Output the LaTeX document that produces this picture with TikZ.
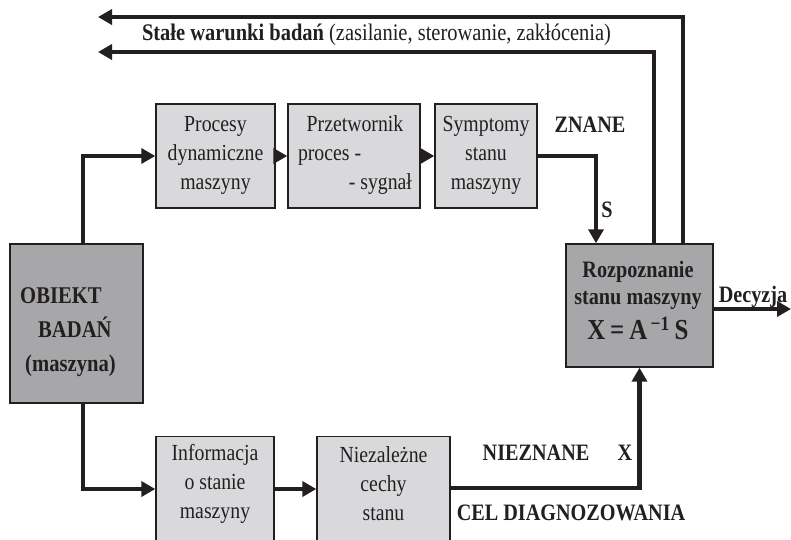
\documentclass[tikz,border=0pt]{standalone}
\usepackage{fontspec}
\setmainfont[FakeStretch=0.86]{Liberation Serif}
\usetikzlibrary{arrows.meta}
\definecolor{lightbox}{HTML}{D9D9DB}
\definecolor{darkbox}{HTML}{A7A7A9}
\definecolor{ink}{HTML}{231F20}
\begin{document}
\begin{tikzpicture}[x=1pt,y=-1pt,
  conn/.style={line width=4.5pt, draw=ink, -{Triangle[length=14pt,width=15pt]}},
  lbox/.style={draw=ink, line width=1.4pt, fill=lightbox, inner sep=0pt},
  dbox/.style={draw=ink, line width=1.4pt, fill=darkbox, inner sep=0pt},
  btxt/.style={inner sep=0pt, align=center, text=ink, font=\fontsize{23}{29}\selectfont},
  bold/.style={inner sep=0pt, text=ink, font=\fontsize{23.5}{28}\selectfont\bfseries},
]
\useasboundingbox (0,0) rectangle (791,539);
\clip (0,0) rectangle (791,539);
\fill[white] (0,0) rectangle (791,539);

% boxes
\node[dbox, minimum width=133pt, minimum height=159pt] (obiekt) at (76.5,323.5) {};
\node[bold, align=left, font=\fontsize{24}{34}\selectfont\bfseries] (obiektt) at (68,332)
  {OBIEKT\\\hspace*{18pt}BADAŃ\\\hspace*{5pt}(maszyna)};

\node[lbox, minimum width=119pt, minimum height=104pt] (proc) at (215.5,156) {};
\node[btxt] (proct) at (215.5,155) {Procesy\\dynamiczne\\maszyny};

\node[lbox, minimum width=132pt, minimum height=104pt] (przet) at (354,156) {};
\node[btxt] (przett) at (355,155)
  {\makebox[114pt][c]{Przetwornik}\\\makebox[114pt][l]{proces -}\\\makebox[114pt][r]{- sygnał}};

\node[lbox, minimum width=102pt, minimum height=104pt] (symp) at (486,156) {};
\node[btxt] (sympt) at (486,155) {Symptomy\\stanu\\maszyny};

\node[dbox, minimum width=147pt, minimum height=123pt] (rozp) at (639.5,305.5) {};
\node[bold] (rozp1) at (638,272) {Rozpoznanie};
\node[bold] (rozp2) at (638,300) {stanu maszyny};
\node[bold, font=\fontsize{29}{30}\selectfont\bfseries] (rozp3) at (638,328)
  {X\,=\,A\textsuperscript{\,−1}\,S};

\node[lbox, minimum width=118pt, minimum height=120pt, anchor=north] (info) at (215,436) {};
\node[btxt] (infot) at (215,484) {Informacja\\o stanie\\maszyny};

\node[lbox, minimum width=133pt, minimum height=120pt, anchor=north] (niez) at (383.5,436) {};
\node[btxt] (nieztt) at (383.5,484) {Niezależne\\cechy\\stanu};

% free ends
\coordinate (c1) at (98,52);
\coordinate (c2) at (98,17);
\coordinate (dec) at (791,309);

% connectors
\draw[conn] ([xshift=6.5pt]obiekt.north) |- (proc.west);
\draw[conn] (proc.east) -- (przet.west);
\draw[conn] (przet.east) -- (symp.west);
\draw[conn] (symp.east) -| ([xshift=-43.5pt]rozp.north);
\draw[conn] ([xshift=14.5pt]rozp.north) |- (c1);
\draw[conn] ([xshift=43.5pt]rozp.north) |- (c2);
\draw[conn] ([yshift=-3.5pt]rozp.east) -- (dec);
\draw[conn] ([xshift=6.5pt]obiekt.south) |- ([yshift=-53pt]info.north west);
\draw[conn] ([yshift=-53pt]info.north east) -- ([yshift=-53pt]niez.north west);
\draw[conn] ([yshift=-52pt]niez.north east) -| (rozp.south);

% labels
\node[inner sep=0pt, text=ink, font=\fontsize{23.8}{28}\selectfont] (stale) at (376.5,35)
  {\textbf{Stałe warunki badań} (zasilanie, sterowanie, zakłócenia)};
\node[bold] (znane) at (590,125) {ZNANE};
\node[bold] (slab) at (607,210) {S};
\node[bold] (decl) at (753,297) {Decyzja};
\node[bold] (niezn) at (536,453) {NIEZNANE};
\node[bold] (xlab) at (625,453) {X};
\node[bold] (cel) at (571,513) {CEL DIAGNOZOWANIA};
\end{tikzpicture}
\end{document}
